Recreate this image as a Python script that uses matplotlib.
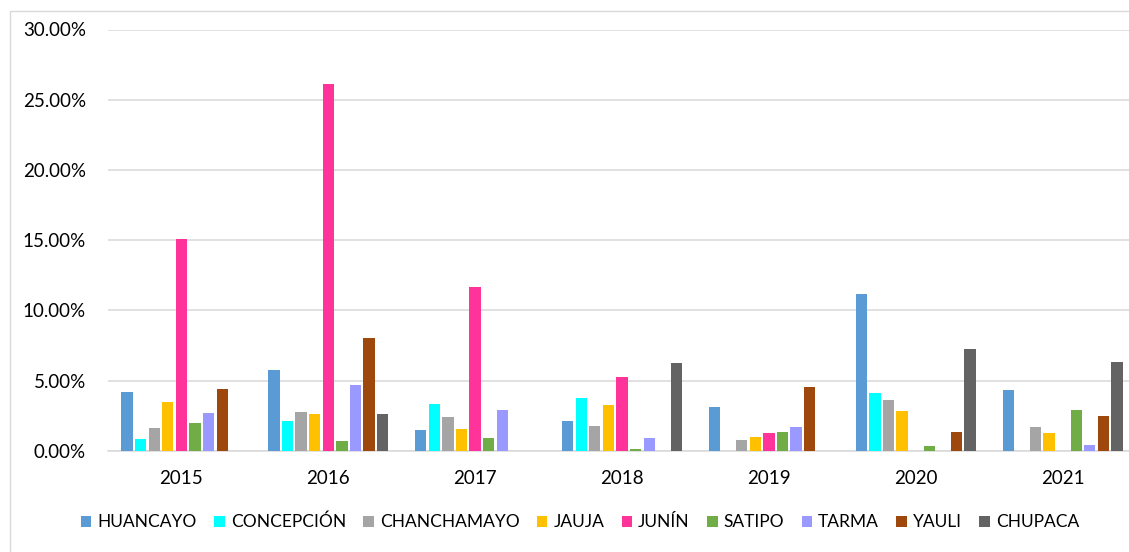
import matplotlib
matplotlib.use("Agg")
import matplotlib.pyplot as plt
import numpy as np
from matplotlib.ticker import PercentFormatter, MultipleLocator
from matplotlib.patches import Rectangle, Patch

plt.rcParams['font.family'] = ['Lato', 'DejaVu Sans']

years = ["2015", "2016", "2017", "2018", "2019", "2020", "2021"]
series_names = ["HUANCAYO", "CONCEPCIÓN", "CHANCHAMAYO", "JAUJA", "JUNÍN",
                "SATIPO", "TARMA", "YAULI", "CHUPACA"]
colors = ["#5B9BD5", "#00FFFF", "#A5A5A5", "#FFC000", "#FF3399",
          "#70AD47", "#9999FF", "#9E480E", "#636363"]

huancayo    = [4.17, 5.73, 1.47, 2.12, 3.11, 11.14, 4.30]
concepcion  = [0.81, 2.12, 3.30, 3.75, 0.00, 4.08, 0.00]
chanchamayo = [1.60, 2.79, 2.40, 1.74, 0.74, 3.59, 1.71]
jauja       = [3.48, 2.62, 1.55, 3.26, 0.98, 2.83, 1.26]
junin       = [15.10, 26.10, 11.64, 5.25, 1.26, 0.00, 0.00]
satipo      = [1.98, 0.69, 0.90, 0.10, 1.33, 0.33, 2.88]
tarma       = [2.69, 4.68, 2.88, 0.88, 1.69, 0.00, 0.38]
yauli       = [4.38, 8.03, 0.00, 0.00, 4.54, 1.36, 2.47]
chupaca     = [0.00, 2.59, 0.00, 6.25, 0.00, 7.24, 6.30]

series = [huancayo, concepcion, chanchamayo, jauja, junin,
          satipo, tarma, yauli, chupaca]

W, H = 1129, 552
fig = plt.figure(figsize=(W / 100, H / 100), dpi=100)

# chart border (cropped at right/bottom)
fig.patches.append(Rectangle((9.5 / W, -0.1), 2.0, 1.1 - 11 / H + 0.0,
                             transform=fig.transFigure, fill=False,
                             edgecolor="#D9D9D9", linewidth=1.0))

left_px, right_px, top_px, bot_px = 108, 1136, 29.5, 450.7
ax = fig.add_axes([left_px / W, 1 - bot_px / H,
                   (right_px - left_px) / W, (bot_px - top_px) / H])

x = np.arange(len(years))
slot = 0.0925
bw = 0.077
n = len(series)
for i, (vals, c, name) in enumerate(zip(series, colors, series_names)):
    ax.bar(x + (i - (n - 1) / 2) * slot, vals, width=bw, color=c,
           linewidth=0, label=name, zorder=3)

ax.set_xlim(-0.5, len(years) - 0.5)
ax.set_ylim(0, 30)
ax.yaxis.set_major_locator(MultipleLocator(5))
ax.yaxis.set_major_formatter(PercentFormatter(xmax=100, decimals=2))
ax.set_xticks(x)
ax.set_xticklabels(years)
ax.grid(axis="y", color="#D9D9D9", linewidth=1.1, zorder=0)
ax.set_axisbelow(True)
for s in ["top", "right", "left"]:
    ax.spines[s].set_visible(False)
ax.spines["bottom"].set_color("#D9D9D9")
ax.spines["bottom"].set_linewidth(1.1)
ax.tick_params(axis="both", length=0, labelsize=13.5, colors="black")
ax.tick_params(axis="y", pad=16)
ax.tick_params(axis="x", pad=14)

handles = [Patch(facecolor=c, edgecolor="none") for c in colors]
fig.legend(handles, series_names, loc="center",
           bbox_to_anchor=(580 / W, 1 - 522 / H), ncol=9, frameon=False,
           fontsize=12.5, handlelength=0.6, handleheight=0.6,
           handletextpad=0.35, columnspacing=1.0, borderaxespad=0)

fig.savefig("out.png", dpi=100)
